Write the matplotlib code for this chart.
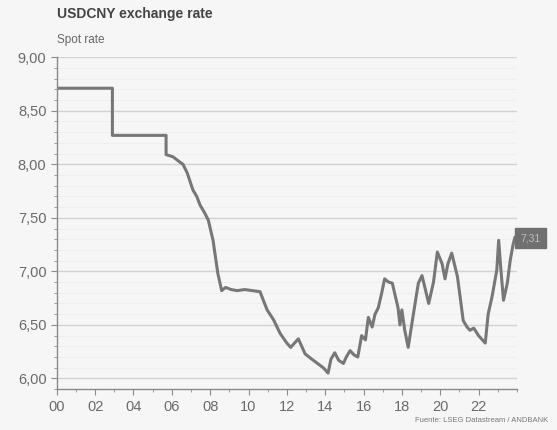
import numpy as np
import matplotlib.pyplot as plt
from matplotlib.ticker import MultipleLocator, FixedLocator, FuncFormatter

plt.rcParams['font.family'] = ['Liberation Sans', 'DejaVu Sans']

# USDCNY spot rate (year offsets from 2000)
years = [0.0, 2.9, 2.9, 5.7, 5.7, 6.06, 6.42, 6.58, 6.8, 7.1, 7.3, 7.47, 7.7, 7.9, 8.15,
         8.4, 8.6, 8.8, 9.1, 9.4, 9.8, 10.2, 10.6, 10.97, 11.3, 11.65, 12.0, 12.2, 12.4,
         12.6, 12.95, 13.3, 13.6, 13.9, 14.15, 14.3, 14.5, 14.7, 14.95, 15.1, 15.3,
         15.5, 15.7, 15.9, 16.1, 16.25, 16.45, 16.6, 16.77, 16.95, 17.1, 17.3, 17.5,
         17.8, 17.9, 18.0, 18.15, 18.33, 18.6, 18.86, 19.05, 19.2, 19.4, 19.65, 19.85,
         20.1, 20.25, 20.4, 20.6, 20.9, 21.2, 21.4, 21.55, 21.75, 22.0, 22.2, 22.35,
         22.5, 22.7, 22.95, 23.05, 23.15, 23.3, 23.5, 23.65, 23.8, 23.9, 24.0]
rate = [8.71, 8.71, 8.27, 8.27, 8.09, 8.07, 8.02, 8.0, 7.92, 7.76, 7.70, 7.62, 7.55, 7.48,
        7.29, 6.98, 6.82, 6.85, 6.83, 6.82, 6.83, 6.82, 6.81, 6.64, 6.55, 6.42, 6.33,
        6.29, 6.33, 6.37, 6.23, 6.18, 6.14, 6.10, 6.05, 6.18, 6.24, 6.17, 6.14, 6.20,
        6.26, 6.22, 6.20, 6.40, 6.36, 6.57, 6.48, 6.60, 6.66, 6.80, 6.93, 6.90, 6.89,
        6.66, 6.50, 6.64, 6.45, 6.29, 6.60, 6.89, 6.96, 6.85, 6.70, 6.90, 7.18, 7.07,
        6.93, 7.07, 7.17, 6.95, 6.54, 6.48, 6.45, 6.47, 6.40, 6.36, 6.33, 6.60, 6.76,
        7.01, 7.29, 7.05, 6.73, 6.89, 7.10, 7.25, 7.32, 7.31]
year_ticks = list(range(2000, 2023, 2))
last_label = "7,31"

x = [2000 + y for y in years]

fig = plt.figure(figsize=(5.57, 4.30), dpi=100)
fig.patch.set_facecolor("#f6f6f6")
ax = fig.add_axes([0.102, 0.095, 0.826, 0.772])
ax.set_facecolor("#f6f6f6")

ax.plot(x, rate, color="#777777", lw=2.2, solid_joinstyle="round")

ax.set_xlim(2000, 2024)
ax.set_ylim(5.9, 9.0)
ax.xaxis.set_major_locator(FixedLocator(year_ticks))
ax.xaxis.set_minor_locator(MultipleLocator(1))
ax.yaxis.set_major_locator(MultipleLocator(0.5))
ax.yaxis.set_minor_locator(MultipleLocator(0.1))
ax.xaxis.set_major_formatter(FuncFormatter(lambda v, p: f"{int(round(v)) % 100:02d}"))
ax.yaxis.set_major_formatter(FuncFormatter(lambda v, p: f"{v:.2f}".replace(".", ",")))

ax.grid(axis="y", which="major", color="#d2d2d2", lw=1.0)
ax.grid(axis="y", which="minor", color="#eeeeee", lw=0.6)
for s in ["top", "right"]:
    ax.spines[s].set_visible(False)
for s in ["left", "bottom"]:
    ax.spines[s].set_color("#8a8a8a")
    ax.spines[s].set_linewidth(1.0)
ax.tick_params(colors="#8a8a8a", labelcolor="#6a6a6a", labelsize=10.5, length=4)
ax.tick_params(which="minor", colors="#8a8a8a", length=2)
ax.set_axisbelow(True)

# last value tag on the right
ax.text(1.008, rate[-1], last_label, transform=ax.get_yaxis_transform(),
        ha="left", va="center", fontsize=7.5, color="#bdbdbd",
        bbox=dict(boxstyle="square,pad=0.5", fc="#707070", ec="#707070"))

fig.text(0.102, 0.967, "USDCNY exchange rate", fontsize=10, fontweight="bold",
         color="#444444", va="center")
fig.text(0.102, 0.907, "Spot rate", fontsize=8.5, color="#666666", va="center")
fig.text(0.985, 0.022, "Fuente: LSEG Datastream / ANDBANK", fontsize=5.5,
         color="#777777", ha="right", va="center")

fig.savefig("out.png", dpi=100, facecolor=fig.get_facecolor())
